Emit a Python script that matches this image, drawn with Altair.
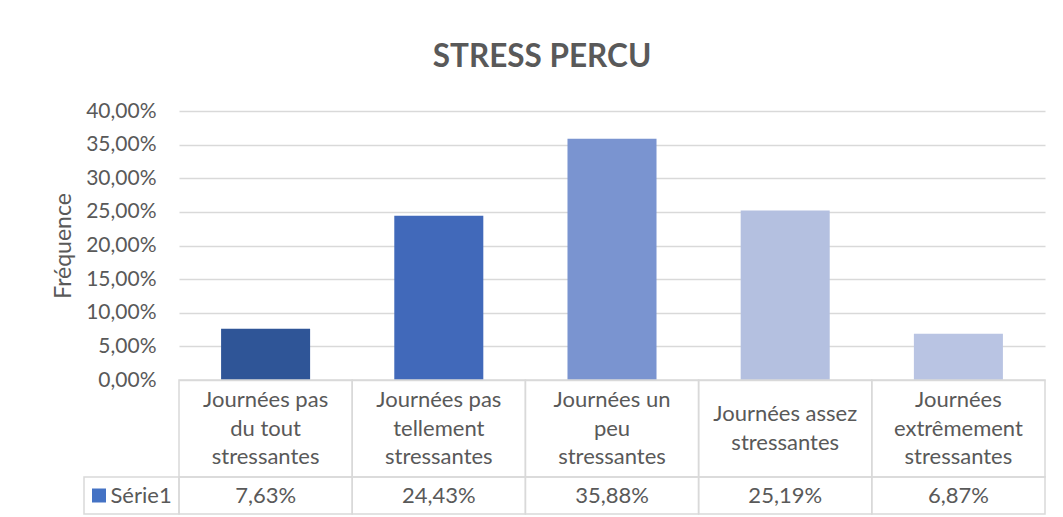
import altair as alt
import pandas as pd

# ---- data ----
categories = [
    "Journées pas du tout stressantes",
    "Journées pas tellement stressantes",
    "Journées un peu stressantes",
    "Journées assez stressantes",
    "Journées extrêmement stressantes",
]
table_labels = [
    "Journées pas\ndu tout\nstressantes",
    "Journées pas\ntellement\nstressantes",
    "Journées un\npeu\nstressantes",
    "Journées assez\nstressantes",
    "Journées\nextrêmement\nstressantes",
]
values = [0.0763, 0.2443, 0.3588, 0.2519, 0.0687]
value_labels = ["7,63%", "24,43%", "35,88%", "25,19%", "6,87%"]
series_name = "Série1"
y_ticks = [0.0, 0.05, 0.10, 0.15, 0.20, 0.25, 0.30, 0.35, 0.40]
chart_title = "STRESS PERCU"
y_title = "Fréquence"

# ---- styles / layout ----
colors = ["#2F5597", "#4169BA", "#7A94D0", "#B4C0E0", "#B9C4E3"]
legend_color = "#4472C4"
text_color = "#595959"
line_color = "#D9D9D9"
FONT = "Lato"
W, H = 866, 269
LABEL_ROW = 97      # height of the category-label row of the data table
VALUE_ROW = 37      # height of the value row
TABLE_H = LABEL_ROW + VALUE_ROW
HEADER_W = 0.5485   # width of the "Série1" header cell, in column units
LINE_H = 28.5

df = pd.DataFrame({"cat": categories, "val": values})

bars = alt.Chart(df).mark_bar().encode(
    x=alt.X("cat:N", sort=categories, axis=None,
            scale=alt.Scale(domain=categories, paddingInner=0.486, paddingOuter=0.243)),
    y=alt.Y("val:Q",
            scale=alt.Scale(domain=[0, 0.4], nice=False),
            axis=alt.Axis(values=y_ticks,
                          labelExpr="replace(format(datum.value, '.2%'), '.', ',')",
                          grid=True, gridColor=line_color, gridWidth=1.5,
                          domain=False, ticks=False, labelPadding=23,
                          labelFont=FONT, labelFontSize=21, labelColor=text_color,
                          title=y_title, titleFont=FONT, titleFontSize=23,
                          titleFontWeight="normal", titleColor=text_color,
                          titlePadding=10)),
    color=alt.Color("cat:N", sort=categories,
                    scale=alt.Scale(domain=categories, range=colors), legend=None),
)

# ---- data table under the plot ----
cells = []
for i in range(len(categories)):
    cells.append({"x0": i, "x1": i + 1, "y0": 0, "y1": LABEL_ROW})
    cells.append({"x0": i, "x1": i + 1, "y0": LABEL_ROW, "y1": TABLE_H})
cells.append({"x0": -HEADER_W, "x1": 0, "y0": LABEL_ROW, "y1": TABLE_H})
cells_df = pd.DataFrame(cells)

tx = alt.Scale(domain=[0, len(categories)], nice=False, zero=False)
ty = alt.Scale(domain=[0, TABLE_H], range=[H, H + TABLE_H], nice=False, zero=False)

rects = alt.Chart(cells_df).mark_rect(fill="white", fillOpacity=0, stroke=line_color,
                                       strokeWidth=1.5).encode(
    x=alt.X("x0:Q", scale=tx, axis=None), x2="x1:Q",
    y=alt.Y("y0:Q", scale=ty, axis=None), y2="y1:Q",
)

n_lines = [lab.count("\n") + 1 for lab in table_labels]
lab_df = pd.DataFrame({
    "xc": [i + 0.5 for i in range(len(categories))],
    "lab": table_labels,
    "vlab": value_labels,
    # first line position so that the block is centred in the label row
    "yl": [LABEL_ROW / 2 - (n - 1) * LINE_H / 2 for n in n_lines],
    "yv": [LABEL_ROW + VALUE_ROW / 2] * len(categories),
})

cat_text = alt.Chart(lab_df).mark_text(font=FONT, fontSize=22, color=text_color,
                                       lineBreak="\n", lineHeight=LINE_H,
                                       baseline="middle", align="center").encode(
    x=alt.X("xc:Q", scale=tx, axis=None), y=alt.Y("yl:Q", scale=ty, axis=None),
    text="lab:N",
)
val_text = alt.Chart(lab_df).mark_text(font=FONT, fontSize=22, color=text_color,
                                       baseline="middle", align="center").encode(
    x=alt.X("xc:Q", scale=tx, axis=None), y=alt.Y("yv:Q", scale=ty, axis=None),
    text="vlab:N",
)

hdr_df = pd.DataFrame({"xs": [-0.462], "xt": [-0.219], "y": [LABEL_ROW + VALUE_ROW / 2],
                       "name": [series_name]})
hdr_sq = alt.Chart(hdr_df).mark_square(size=196, color=legend_color, opacity=1).encode(
    x=alt.X("xs:Q", scale=tx, axis=None), y=alt.Y("y:Q", scale=ty, axis=None),
)
hdr_text = alt.Chart(hdr_df).mark_text(font=FONT, fontSize=22, color=text_color,
                                       baseline="middle", align="center").encode(
    x=alt.X("xt:Q", scale=tx, axis=None), y=alt.Y("y:Q", scale=ty, axis=None),
    text="name:N",
)

table = alt.layer(rects, cat_text, val_text, hdr_sq, hdr_text)

chart = alt.layer(bars, table).resolve_scale(
    x="independent", y="independent", color="independent"
).properties(
    width=W, height=H,
    title=alt.TitleParams(chart_title, font=FONT, fontSize=31.5, fontWeight="bold",
                          color=text_color, anchor="middle", dx=-70, offset=27),
    padding={"left": 171, "top": 103, "right": 5, "bottom": 137},
    autosize=alt.AutoSizeParams(type="none"),
).configure_view(stroke=None)

chart.save("out.html", embed_options={"renderer": "svg", "actions": False})
